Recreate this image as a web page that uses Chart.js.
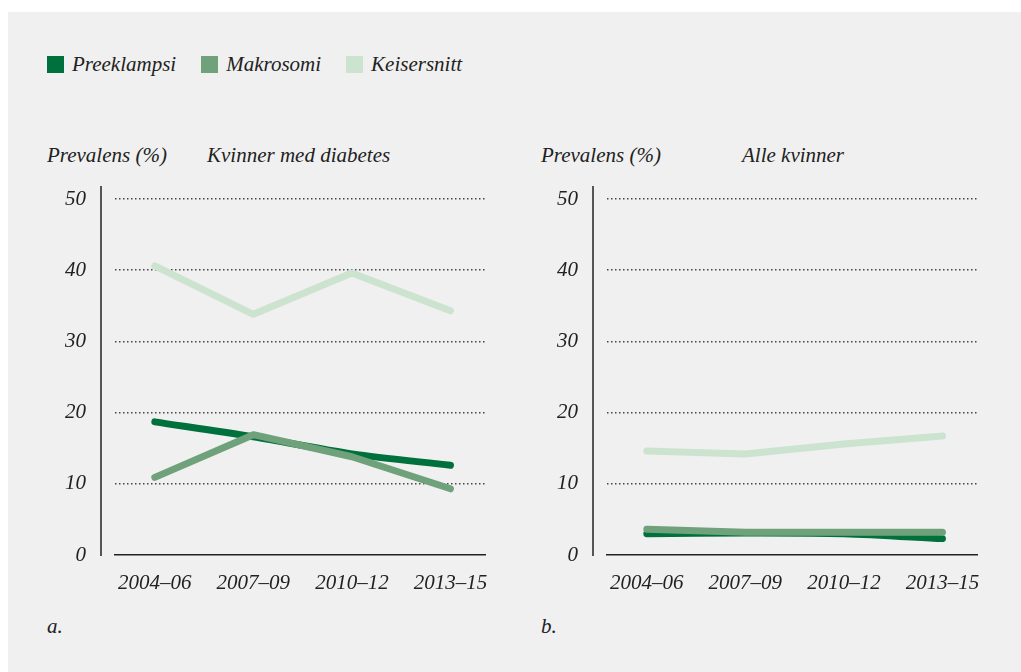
<!DOCTYPE html>
<html>
<head>
<meta charset="utf-8">
<script src="https://cdn.jsdelivr.net/npm/chart.js@4/dist/chart.umd.min.js"></script>
<style>
  body { margin: 0; background: #fff; font-family: "Liberation Serif", serif; font-style: italic; color: #222; }
  #panel { position: absolute; left: 8px; top: 12px; width: 1013px; height: 660px; background: #f0f0f0; }
  .txt { position: absolute; font-size: 21px; white-space: nowrap; }
  #legend { position: absolute; left: 47px; top: 52px; font-size: 21px; white-space: nowrap; }
  #legend span.item { display: inline-block; margin-right: 25px; }
  #legend i.box { display: inline-block; width: 17px; height: 17px; margin-right: 8px; vertical-align: -2px; }
  canvas { position: absolute; }
</style>
</head>
<body>
<div id="panel"></div>
<div id="legend"></div>
<div class="txt" style="left:47px;top:143px">Prevalens (%)</div>
<div class="txt" style="left:207px;top:143px">Kvinner med diabetes</div>
<div class="txt" style="left:541px;top:143px">Prevalens (%)</div>
<div class="txt" style="left:742px;top:143px">Alle kvinner</div>
<div class="txt" style="left:47px;top:614px">a.</div>
<div class="txt" style="left:541px;top:614px">b.</div>
<canvas id="chart_a" width="505" height="440" style="left:0px;top:170px"></canvas>
<canvas id="chart_b" width="505" height="440" style="left:492px;top:170px"></canvas>
<script>
"use strict";
const periods = ["2004–06", "2007–09", "2010–12", "2013–15"];
const series_names = ["Preeklampsi", "Makrosomi", "Keisersnitt"];
const series_colors = ["#00703c", "#6fa27b", "#cce3cf"];

// a. Kvinner med diabetes
const diabetes_preeklampsi = [18.7, 16.6, 14.2, 12.6];
const diabetes_makrosomi = [10.9, 16.9, 13.8, 9.3];
const diabetes_keisersnitt = [40.6, 33.8, 39.6, 34.3];

// b. Alle kvinner
const alle_preeklampsi = [3.0, 3.1, 3.0, 2.3];
const alle_makrosomi = [3.6, 3.2, 3.2, 3.2];
const alle_keisersnitt = [14.6, 14.2, 15.6, 16.7];

const y_ticks = [0, 10, 20, 30, 40, 50];

const legend = document.getElementById("legend");
series_names.forEach((name, i) => {
  const item = document.createElement("span");
  item.className = "item";
  item.innerHTML = "<i class=\"box\" style=\"background:" + series_colors[i] + "\"></i>" + name;
  legend.appendChild(item);
});

const font = { family: "Liberation Serif", style: "italic", size: 21 };

// vertical axis line, set a bit apart from the plot like in the print
const y_line = {
  id: "y_line",
  afterDraw(chart) {
    const ctx = chart.ctx;
    const y = chart.scales.y;
    const x = chart.chartArea.left - 14;
    ctx.save();
    ctx.strokeStyle = "#222";
    ctx.lineWidth = 1.5;
    ctx.beginPath();
    ctx.moveTo(x, y.getPixelForValue(y_ticks[y_ticks.length - 1]) - 13);
    ctx.lineTo(x, y.getPixelForValue(0) + 1);
    ctx.stroke();
    ctx.restore();
  }
};

function make_dataset(i, values, tension) {
  return {
    label: series_names[i],
    data: values.map((v, j) => ({ x: j, y: v })),
    borderColor: series_colors[i],
    backgroundColor: series_colors[i],
    borderWidth: 7,
    borderCapStyle: "round",
    borderJoinStyle: "round",
    pointRadius: 0,
    tension: tension,
    order: [1, 0, 2][i]
  };
}

function draw_chart(id, pre, mak, kei) {
  return new Chart(document.getElementById(id), {
    type: "line",
    data: {
      datasets: [
        make_dataset(0, pre, 0.3),
        make_dataset(1, mak, 0),
        make_dataset(2, kei, 0)
      ]
    },
    options: {
      responsive: false,
      animation: false,
      layout: { padding: { top: 29, right: 19, bottom: 5, left: 0 } },
      plugins: { legend: { display: false }, tooltip: { enabled: false } },
      scales: {
        x: {
          type: "linear",
          min: -0.404,
          max: 3.354,
          afterBuildTicks: s => { s.ticks = periods.map((p, i) => ({ value: i })); },
          afterFit: s => { s.height = 50; },
          ticks: {
            callback: v => periods[v],
            font: font,
            color: "#222",
            padding: 16,
            maxRotation: 0
          },
          grid: { display: false, drawTicks: false },
          border: { display: true, color: "#222", width: 1.5 }
        },
        y: {
          min: 0,
          max: 50,
          afterBuildTicks: s => { s.ticks = y_ticks.map(v => ({ value: v })); },
          afterFit: s => { s.width = 115; s.paddingTop = 12; s.paddingBottom = 12; },
          ticks: { font: font, color: "#222", padding: 29 },
          grid: {
            drawTicks: false,
            lineWidth: 1.5,
            color: c => c.tick && c.tick.value === 0 ? "rgba(0,0,0,0)" : "#444"
          },
          border: { display: false, dash: [1.5, 2.5] }
        }
      }
    },
    plugins: [y_line]
  });
}

draw_chart("chart_a", diabetes_preeklampsi, diabetes_makrosomi, diabetes_keisersnitt);
draw_chart("chart_b", alle_preeklampsi, alle_makrosomi, alle_keisersnitt);
</script>
</body>
</html>
